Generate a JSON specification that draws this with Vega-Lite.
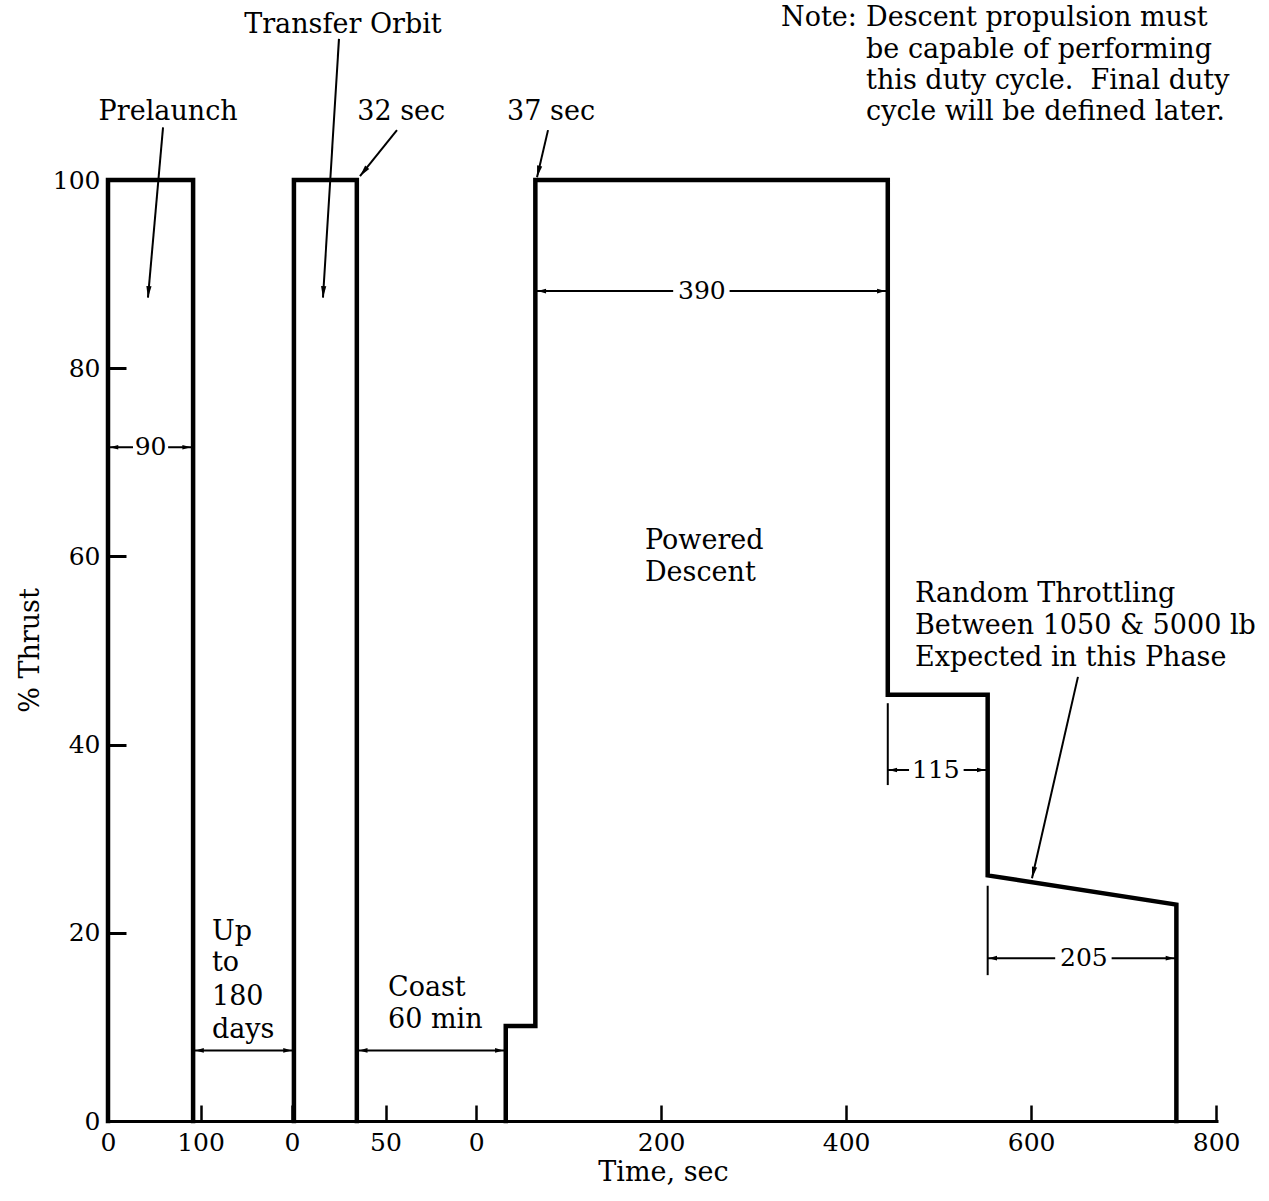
{
  "$schema": "https://vega.github.io/schema/vega-lite/v6.json",
  "width": 1110,
  "height": 941,
  "autosize": {"type": "none"},
  "padding": {"left": 108, "top": 180, "right": 51, "bottom": 80},
  "background": "white",
  "config": {
    "view": {"stroke": null},
    "font": "DejaVu Serif",
    "text": {"font": "DejaVu Serif", "fontSize": 27, "color": "black"}
  },
  "datasets": {
    "trace": [
      {"seg": "A", "i": 1, "x": -398, "y": 0},
      {"seg": "A", "i": 2, "x": -398, "y": 100},
      {"seg": "A", "i": 3, "x": -306, "y": 100},
      {"seg": "A", "i": 4, "x": -306, "y": 0},
      {"seg": "B", "i": 1, "x": -197, "y": 0},
      {"seg": "B", "i": 2, "x": -197, "y": 100},
      {"seg": "B", "i": 3, "x": -129, "y": 100},
      {"seg": "B", "i": 4, "x": -129, "y": 0},
      {"seg": "C", "i": 1, "x": 32, "y": 0},
      {"seg": "C", "i": 2, "x": 32, "y": 10.1},
      {"seg": "C", "i": 3, "x": 64, "y": 10.1},
      {"seg": "C", "i": 4, "x": 64, "y": 100},
      {"seg": "C", "i": 5, "x": 445, "y": 100},
      {"seg": "C", "i": 6, "x": 445, "y": 45.3},
      {"seg": "C", "i": 7, "x": 553, "y": 45.3},
      {"seg": "C", "i": 8, "x": 553, "y": 26.1},
      {"seg": "C", "i": 9, "x": 757, "y": 23.0},
      {"seg": "C", "i": 10, "x": 757, "y": 0}
    ],
    "dims": [
      {"id": "90a", "x": -398, "x2": -371, "y": 71.6, "y2": 71.6},
      {"id": "90b", "x": -333, "x2": -306, "y": 71.6, "y2": 71.6},
      {"id": "upto", "x": -306, "x2": -197, "y": 7.5, "y2": 7.5},
      {"id": "coast", "x": -129, "x2": 32, "y": 7.5, "y2": 7.5},
      {"id": "390a", "x": 64, "x2": 213, "y": 88.2, "y2": 88.2},
      {"id": "390b", "x": 274, "x2": 445, "y": 88.2, "y2": 88.2},
      {"id": "115a", "x": 445, "x2": 468, "y": 37.3, "y2": 37.3},
      {"id": "115b", "x": 527, "x2": 553, "y": 37.3, "y2": 37.3},
      {"id": "205a", "x": 553, "x2": 626, "y": 17.3, "y2": 17.3},
      {"id": "205b", "x": 687, "x2": 757, "y": 17.3, "y2": 17.3},
      {"id": "ext115", "x": 445, "x2": 445, "y": 44.4, "y2": 35.7},
      {"id": "ext205", "x": 553, "x2": 553, "y": 25.0, "y2": 15.5},
      {"id": "p_prelaunch", "x": -338.5, "x2": -354.8, "y": 105.6, "y2": 87.5},
      {"id": "p_transfer", "x": -148.3, "x2": -165.6, "y": 115.0, "y2": 87.5},
      {"id": "p_32", "x": -85.6, "x2": -125.6, "y": 105.3, "y2": 100.4},
      {"id": "p_37", "x": 77.7, "x2": 65.8, "y": 105.3, "y2": 100.3},
      {"id": "p_random", "x": 650.6, "x2": 600.9, "y": 47.2, "y2": 25.8}
    ],
    "heads": [
      {"head": "left", "x": -396, "y": 71.6},
      {"head": "right", "x": -308.5, "y": 71.6},
      {"head": "left", "x": -303.5, "y": 7.5},
      {"head": "right", "x": -199.5, "y": 7.5},
      {"head": "left", "x": -126.5, "y": 7.5},
      {"head": "right", "x": 29.5, "y": 7.5},
      {"head": "left", "x": 66.5, "y": 88.2},
      {"head": "right", "x": 442.5, "y": 88.2},
      {"head": "left", "x": 446, "y": 37.3},
      {"head": "right", "x": 550.5, "y": 37.3},
      {"head": "left", "x": 554, "y": 17.3},
      {"head": "right", "x": 754.5, "y": 17.3},
      {"head": "prelaunch", "x": -354.8, "y": 87.5},
      {"head": "transfer", "x": -165.6, "y": 87.5},
      {"head": "sec32", "x": -125.6, "y": 100.4},
      {"head": "sec37", "x": 65.8, "y": 100.3},
      {"head": "random", "x": 600.9, "y": 25.8}
    ],
    "centered": [
      {"t": "Prelaunch", "x": -333, "y": 107.2},
      {"t": "Transfer Orbit", "x": -144, "y": 116.5},
      {"t": "32 sec", "x": -81, "y": 107.2},
      {"t": "37 sec", "x": 81, "y": 107.2}
    ],
    "dimtext": [
      {"t": "90", "x": -352, "y": 71.6},
      {"t": "390", "x": 244, "y": 88.2},
      {"t": "115", "x": 497, "y": 37.3},
      {"t": "205", "x": 657, "y": 17.3}
    ],
    "lefttext": [
      {"t": "Note:", "x": 329.6, "y": 117.2},
      {"t": "Descent propulsion must", "x": 421.5, "y": 117.2},
      {"t": "be capable of performing", "x": 421.5, "y": 113.8},
      {"t": "this duty cycle.\u00a0 Final duty", "x": 421.5, "y": 110.5},
      {"t": "cycle will be defined later.", "x": 421.5, "y": 107.2},
      {"t": "Powered", "x": 182.5, "y": 61.6},
      {"t": "Descent", "x": 182.5, "y": 58.2},
      {"t": "Random Throttling", "x": 474.4, "y": 56.0},
      {"t": "Between 1050 & 5000 lb", "x": 474.4, "y": 52.6},
      {"t": "Expected in this Phase", "x": 474.4, "y": 49.2},
      {"t": "Up", "x": -285.6, "y": 20.1},
      {"t": "to", "x": -285.6, "y": 16.8},
      {"t": "180", "x": -285.6, "y": 13.2},
      {"t": "days", "x": -285.6, "y": 9.7},
      {"t": "Coast", "x": -95.3, "y": 14.1},
      {"t": "60 min", "x": -95.3, "y": 10.7}
    ]
  },
  "encoding": {
    "x": {
      "field": "x", "type": "quantitative",
      "scale": {"domain": [-398, 802], "nice": false, "zero": false},
      "axis": {
        "title": "Time, sec",
        "values": [-398, -298, -199, -98, 0, 200, 400, 600, 800],
        "labelExpr": "datum.value == -398 ? '0' : datum.value == -298 ? '100' : datum.value == -199 ? '0' : datum.value == -98 ? '50' : format(datum.value, 'd')",
        "grid": false,
        "domainColor": "black", "domainWidth": 3,
        "tickColor": "black", "tickWidth": 2.5, "tickSize": -16,
        "labelFont": "DejaVu Serif", "labelFontSize": 25, "labelColor": "black",
        "labelPadding": 25, "labelFlush": false, "labelOverlap": false, "labelBound": false,
        "titleFont": "DejaVu Serif", "titleFontSize": 27, "titleFontWeight": "normal", "titleColor": "black",
        "titleX": 555, "titleY": 51, "titleBaseline": "middle", "titleAlign": "center"
      }
    },
    "y": {
      "field": "y", "type": "quantitative",
      "scale": {"domain": [0, 100], "nice": false},
      "axis": {
        "title": "% Thrust",
        "values": [0, 20, 40, 60, 80, 100],
        "grid": false,
        "domainColor": "black", "domainWidth": 3,
        "tickColor": "black", "tickWidth": 3, "tickSize": -18,
        "labelFont": "DejaVu Serif", "labelFontSize": 25, "labelColor": "black",
        "labelPadding": 26, "labelOverlap": false, "labelBound": false, "labelFlush": false,
        "titleFont": "DejaVu Serif", "titleFontSize": 27, "titleFontWeight": "normal", "titleColor": "black",
        "titleX": -78, "titleY": 470, "titleBaseline": "middle", "titleAlign": "center", "titleAngle": -90
      }
    }
  },
  "layer": [
    {
      "data": {"name": "trace"},
      "mark": {"type": "line", "color": "black", "strokeWidth": 4.5, "strokeJoin": "miter", "strokeCap": "square"},
      "encoding": {
        "detail": {"field": "seg", "type": "nominal"},
        "order": {"field": "i", "type": "quantitative"}
      }
    },
    {
      "data": {"name": "dims"},
      "mark": {"type": "rule", "color": "black", "strokeWidth": 2},
      "encoding": {
        "x2": {"field": "x2"},
        "y2": {"field": "y2"}
      }
    },
    {
      "data": {"name": "heads"},
      "mark": {"type": "point", "filled": true, "color": "black", "size": 110, "opacity": 1},
      "encoding": {
        "shape": {
          "field": "head", "type": "nominal", "legend": null,
          "scale": {
            "domain": ["left", "right", "prelaunch", "transfer", "sec32", "sec37", "random"],
            "range": [
              "M0,0L1.6,-0.45L1.6,0.45Z",
              "M0,0L-1.6,-0.45L-1.6,0.45Z",
              "M0,0L0.69,-2.148L-0.306,-2.235Z",
              "M0,0L0.633,-2.165L-0.365,-2.226Z",
              "M0,0L1.768,-1.401L0.989,-2.028Z",
              "M0,0L0.989,-2.028L0.016,-2.256Z",
              "M0,0L0.979,-2.033L0.004,-2.256Z"
            ]
          }
        }
      }
    },
    {
      "data": {"name": "centered"},
      "mark": {"type": "text", "align": "center", "baseline": "middle", "font": "DejaVu Serif", "fontSize": 27, "color": "black"},
      "encoding": {
        "text": {"field": "t", "type": "nominal"}
      }
    },
    {
      "data": {"name": "dimtext"},
      "mark": {"type": "text", "align": "center", "baseline": "middle", "font": "DejaVu Serif", "fontSize": 25, "color": "black"},
      "encoding": {
        "text": {"field": "t", "type": "nominal"}
      }
    },
    {
      "data": {"name": "lefttext"},
      "mark": {"type": "text", "align": "left", "baseline": "middle", "font": "DejaVu Serif", "fontSize": 27, "color": "black"},
      "encoding": {
        "text": {"field": "t", "type": "nominal"}
      }
    }
  ]
}
